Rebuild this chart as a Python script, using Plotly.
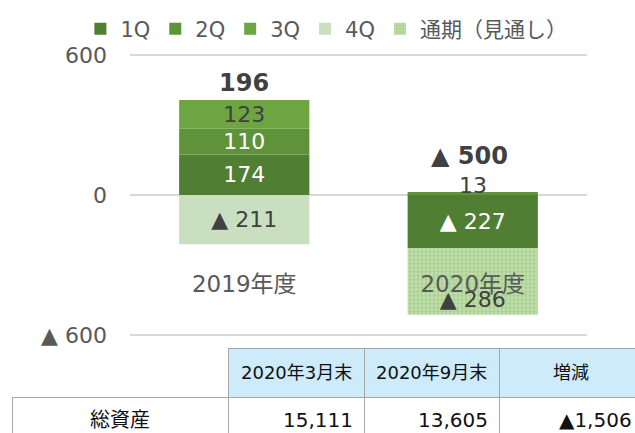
import plotly.graph_objects as go

# ---- data ----
categories = ['2019年度', '2020年度']
q1 = [174, -227]
q2 = [110, 13]
q3 = [123, None]
q4 = [-211, None]
full_year = [None, -286]
totals = [196, -500]

y_ticks = [-600, 0, 600]
y_ticktext = ['▲ 600', '0', '600']

table_header = ['', '2020年3月末', '2020年9月末', '増減']
row_label = ['総資産']
assets_mar = [15111]
assets_sep = [13605]
assets_change = [-1506]

FONT = 'DejaVu Sans, Noto Sans CJK JP, sans-serif'
GRAY = '#595959'
DARK = '#404040'
W, H = 635, 433


def fmt(v):
    if v is None:
        return ''
    return f'▲ {abs(v)}' if v < 0 else f'{v}'


def fmt_tbl(v):
    return f'▲{abs(v):,}' if v < 0 else f'{v:,}'


fig = go.Figure()

series = [
    ('1Q', q1, '#507e32', ['white', 'white'], 'middle'),
    ('2Q', q2, '#5f9339', ['white', DARK], 'middle'),
    ('3Q', q3, '#6da543', [DARK, DARK], 'middle'),
    ('4Q', q4, '#cadec0', [DARK, DARK], 'middle'),
]
for name, vals, color, tcolors, anchor in series:
    texts = [fmt(v) for v in vals]
    if name == '2Q':
        texts[1] = ''  # too thin; labelled separately
    fig.add_trace(go.Bar(
        name=name, x=categories, y=vals, marker=dict(color=color, line=dict(width=0)),
        text=texts, textposition='inside', insidetextanchor=anchor,
        insidetextfont=dict(size=22, color=tcolors, family=FONT),
        constraintext='none', textangle=0, hoverinfo='skip'))

fig.add_trace(go.Bar(
    name='通期（見通し）', x=categories, y=full_year,
    marker=dict(color='#a9d18e', line=dict(width=0),
                pattern=dict(shape='+', fgcolor='#ffffff', bgcolor='#a5cf8a', size=4, solidity=0.35)),
    text=[fmt(v) for v in full_year], textposition='inside', insidetextanchor='end',
    insidetextfont=dict(size=22, color=DARK, family=FONT),
    constraintext='none', textangle=0, hoverinfo='skip'))

# small positive 2Q value of 2020
fig.add_annotation(x=categories[1], y=q2[1], text=fmt(q2[1]), showarrow=False,
                   yanchor='middle', yshift=6, font=dict(size=22, color=DARK, family=FONT))

# totals on top of stacks
pos_tops = []
for i in range(len(categories)):
    s = sum(v for v in (q1[i], q2[i], q3[i], q4[i], full_year[i]) if v is not None and v > 0)
    pos_tops.append(s)
shifts = [1, 20]
for i, c in enumerate(categories):
    fig.add_annotation(x=c, y=pos_tops[i], text=f'<b>{fmt(totals[i])}</b>', showarrow=False,
                       yanchor='bottom', yshift=shifts[i], xshift=-3 * i,
                       font=dict(size=24, color=DARK, family=FONT))

# ---- table (grid drawn by go.Table, text centred vertically via annotations) ----
line_gray = '#a6a6a6'
tbl_left, tbl_top = 12, 348
hdr_h, row_h = 49, 50
col_w = [216, 136, 135, 136]
col_w_text = [216, 136, 135, 144]   # last column continues past the right edge
fig.add_trace(go.Table(
    domain=dict(x=[tbl_left / W, 1.0], y=[0, (H - tbl_top) / H]),
    columnwidth=col_w,
    header=dict(values=[''] * 4, height=hdr_h,
                fill=dict(color=['white', '#cdebfb', '#cdebfb', '#cdebfb']),
                line=dict(color=['rgba(0,0,0,0)', line_gray, line_gray, line_gray], width=1)),
    cells=dict(values=[[''], [''], [''], ['']], height=row_h, fill=dict(color='white'),
               line=dict(color=line_gray, width=1))))

edges = [tbl_left]
for w in col_w_text:
    edges.append(edges[-1] + w)
hdr_y = (H - (tbl_top + hdr_h / 2)) / H
row_y = (H - (tbl_top + hdr_h + row_h / 2 - 2)) / H
for j, t in enumerate(table_header):
    if t:
        fig.add_annotation(x=(edges[j] + edges[j + 1]) / 2 / W, y=hdr_y, xref='paper', yref='paper',
                           text=t, showarrow=False, xanchor='center', yanchor='middle',
                           font=dict(size=18, color='#111111', family=FONT))
row_vals = [row_label[0], fmt_tbl(assets_mar[0]), fmt_tbl(assets_sep[0]), fmt_tbl(assets_change[0])]
for j, t in enumerate(row_vals):
    if j == 0:
        xx, xa = (edges[0] + edges[1]) / 2 / W, 'center'
    else:
        xx, xa = (edges[j + 1] - 9) / W, 'right'
    fig.add_annotation(x=xx, y=row_y, xref='paper', yref='paper', text=t, showarrow=False,
                       xanchor=xa, yanchor='middle', font=dict(size=20, color='#111111', family=FONT))

# y axis: extend range slightly so the +-600 grid lines are not clipped at the edges
pad = 15
px_per_unit = (335 - 55) / 1200
fig.update_layout(
    width=W, height=H, margin=dict(l=0, r=0, t=0, b=0, autoexpand=False),
    paper_bgcolor='white', plot_bgcolor='white',
    barmode='relative', bargap=0.43,
    font=dict(family=FONT, color=GRAY),
    showlegend=True,
    xaxis=dict(domain=[130 / W, 587 / W], anchor='free', position=0.381,
               showline=False, showgrid=False, ticks='', zeroline=False, automargin=False,
               tickfont=dict(size=23, color=GRAY, family=FONT)),
    yaxis=dict(domain=[(H - 335 - pad * px_per_unit) / H, (H - 55 + pad * px_per_unit) / H],
               range=[-600 - pad, 600 + pad],
               tickvals=y_ticks, ticktext=y_ticktext, showline=False, ticks='', automargin=False,
               gridcolor='#d9d9d9', gridwidth=1.5, zeroline=True, zerolinecolor='#d9d9d9',
               zerolinewidth=1.5, ticklabelstandoff=22,
               tickfont=dict(size=22, color=GRAY, family=FONT)),
    legend=dict(orientation='h', x=0.514, xanchor='center', y=(H - 29) / H, yanchor='middle',
                font=dict(size=21, color=GRAY, family=FONT), traceorder='normal',
                bgcolor='rgba(0,0,0,0)'),
)

fig.write_html('out.html', config={'responsive': False, 'displayModeBar': False},
               post_script="document.body.style.margin='0';")
